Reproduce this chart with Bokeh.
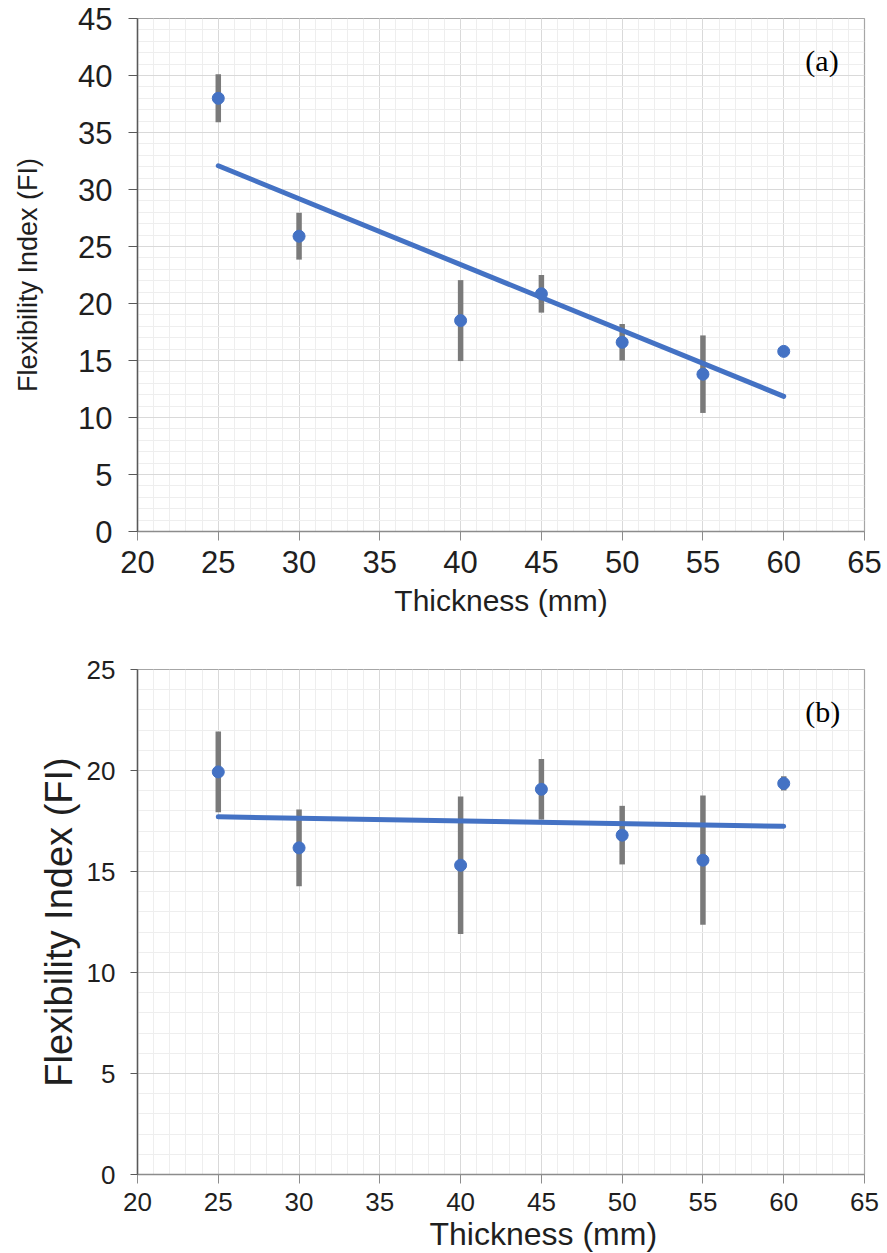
import numpy as np
from bokeh.plotting import figure
from bokeh.layouts import column
from bokeh.models import SingleIntervalTicker, Range1d, Label, Title
from bokeh.embed import file_html
from bokeh.resources import INLINE

# ---- data ----
thickness = [25, 30, 40, 45, 50, 55, 60]
fi_a = [38.0, 25.9, 18.5, 20.85, 16.6, 13.8, 15.8]
err_a = [2.1, 2.05, 3.55, 1.65, 1.6, 3.4, 0.35]
fi_b = [19.93, 16.17, 15.31, 19.07, 16.8, 15.56, 19.36]
err_b = [2.0, 1.9, 3.4, 1.5, 1.45, 3.2, 0.35]
panel_labels = ["(a)", "(b)"]
x_title = "Thickness (mm)"
y_title = "Flexibility Index (FI)"

BLUE = "#4472C4"
GRAY = "#7a7a7a"
FONT = "Liberation Sans"
TXT = "#1f1f1f"


def make_panel(y, err, ymax, height, borders, tick_fs, title_fs, y_title_fs,
               lab, lab_pos, ylab_standoff, xlab_standoff, ytick_out, ylab_sof,
               xlab_sof, xtitle_offset=None):
    left, right, top, bottom = borders
    p = figure(width=887, height=height, output_backend="svg", toolbar_location=None,
               x_range=Range1d(20, 65), y_range=Range1d(0, ymax),
               min_border_left=left, min_border_right=right,
               min_border_top=top, min_border_bottom=bottom)
    p.background_fill_color = "white"
    p.border_fill_color = "white"
    p.outline_line_color = "#a6a6a6"
    p.outline_line_width = 1.2

    xt = SingleIntervalTicker(interval=5, num_minor_ticks=5)
    yt = SingleIntervalTicker(interval=5, num_minor_ticks=5)
    p.xaxis.ticker = xt
    p.yaxis.ticker = yt
    p.xgrid.ticker = xt
    p.ygrid.ticker = yt
    for g in (p.xgrid, p.ygrid):
        g.grid_line_color = "#d9d9d9"
        g.grid_line_width = 1
        g.minor_grid_line_color = "#eeeeee"
        g.minor_grid_line_width = 1

    for ax in (p.xaxis, p.yaxis):
        ax.minor_tick_line_color = None
        ax.major_tick_in = 0
        ax.major_label_text_font = FONT
        ax.major_label_text_font_size = f"{tick_fs}px"
        ax.major_label_text_color = TXT
        ax.axis_label_text_font = FONT
        ax.axis_label_text_font_style = "normal"
        ax.axis_label_text_color = TXT
    p.yaxis.axis_line_color = "#595959"
    p.yaxis.axis_line_width = 1.5
    p.yaxis.major_tick_line_color = "#595959"
    p.xaxis.axis_line_color = "#8c8c8c"
    p.xaxis.axis_line_width = 1.5
    p.xaxis.major_tick_line_color = "#8c8c8c"
    p.yaxis.major_tick_out = ytick_out
    p.xaxis.major_tick_out = 9
    p.yaxis.major_label_standoff = ylab_sof
    p.xaxis.major_label_standoff = xlab_sof

    if xtitle_offset is None:
        p.xaxis.axis_label = x_title
        p.xaxis.axis_label_text_font_size = f"{title_fs}px"
        p.xaxis.axis_label_standoff = xlab_standoff
    else:
        p.add_layout(Title(text=x_title, align="left", offset=xtitle_offset,
                           standoff=xlab_standoff, text_font=FONT,
                           text_font_style="normal",
                           text_font_size=f"{title_fs}px", text_color=TXT),
                     "below")
    p.yaxis.axis_label = y_title
    p.yaxis.axis_label_text_font_size = f"{y_title_fs}px"
    p.yaxis.axis_label_standoff = ylab_standoff

    lo = [v - e for v, e in zip(y, err)]
    hi = [v + e for v, e in zip(y, err)]
    p.segment(x0=thickness, y0=lo, x1=thickness, y1=hi,
              line_color=GRAY, line_width=5.5)

    k, b = np.polyfit(thickness, y, 1)
    xs = [min(thickness), max(thickness)]
    p.line(xs, [k * v + b for v in xs], line_color=BLUE, line_width=5,
           line_cap="round")

    p.scatter(thickness, y, size=12, fill_color=BLUE, line_color=BLUE)

    p.add_layout(Label(x=lab_pos[0], y=lab_pos[1], text=lab,
                       text_font="Liberation Serif", text_font_size="30px",
                       text_align="right", text_baseline="middle",
                       text_color="#000000"))
    return p


p1 = make_panel(fi_a, err_a, 45, 630, (137, 21, 18, 99), 31, 30, 27,
                panel_labels[0], (63.4, 41.3), 32, 8, 9, 16, 10)
p2 = make_panel(fi_b, err_b, 25, 623, (135, 23, 39, 79), 26, 32, 38,
                panel_labels[1], (63.5, 22.9), 4, 0, 7, 15, 9,
                xtitle_offset=292)

layout = column(p1, p2, spacing=0)
open("out.html", "w").write(file_html(layout, INLINE))
